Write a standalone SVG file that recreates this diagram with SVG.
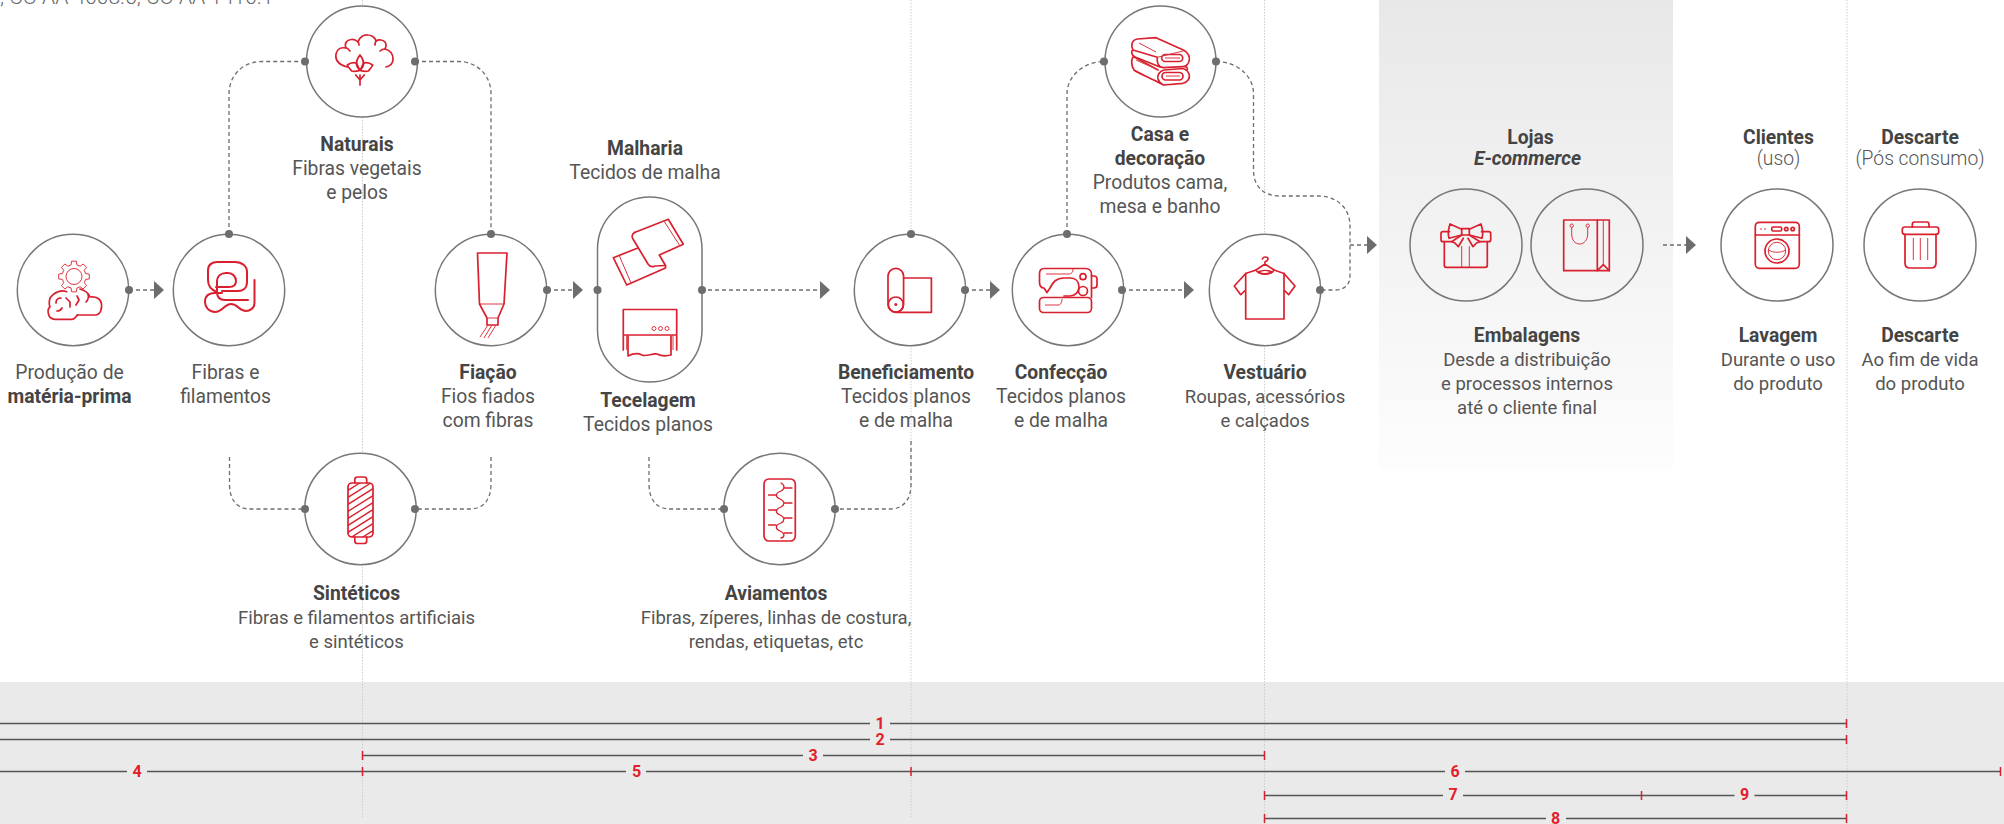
<svg xmlns="http://www.w3.org/2000/svg" width="2004" height="824" viewBox="0 0 2004 824">
<style>
text{font-family:Roboto,"Liberation Sans",sans-serif;font-size:19.3px;fill:#555;text-anchor:middle}
.b{font-weight:700;fill:#444}
.l{font-weight:300}
.s{font-size:18.5px}
.c{fill:#fff;stroke:#777;stroke-width:1.5}
.n{fill:none;stroke:#777;stroke-width:1.5}
.d{fill:none;stroke:#6d6d6d;stroke-width:1.3;stroke-dasharray:4 3}
.dot{fill:#6d6d6d}
.ah{fill:#6d6d6d}
.i{fill:none;stroke:#d9202e;stroke-width:1.7;stroke-linejoin:round;stroke-linecap:round}
.t{fill:none;stroke:#dc3540;stroke-width:1}
.g{stroke:#ccc;stroke-width:1;stroke-dasharray:1.5 1.5}
.r{stroke:#555;stroke-width:1.3}
.k{stroke:#d9202e;stroke-width:1.5}
.m{font-weight:700;font-size:16px;fill:#e2202c}
</style>
<defs>
<linearGradient id="pg" x1="0" y1="0" x2="0" y2="1"><stop offset="0" stop-color="#e8e8e8"/><stop offset="1" stop-color="#fdfdfd"/></linearGradient>
<clipPath id="spc"><rect x="348" y="483" width="25" height="54" rx="4"/></clipPath>
</defs>

<rect x="1379" y="0" width="294" height="470" fill="url(#pg)"/>
<rect x="0" y="682" width="2004" height="142" fill="#eaeaea"/>
<g id="guides">
<line class="g" x1="362.500" y1="0" x2="362.500" y2="817"/>
<line class="g" x1="911" y1="0" x2="911" y2="817"/>
<line class="g" x1="1264.500" y1="0" x2="1264.500" y2="824"/>
<line class="g" x1="1847" y1="0" x2="1847" y2="824"/>
</g>
<text id="top-note" class="l" x="0" y="4" style="text-anchor:start;font-size:21px;fill:#666">, CO AA 4008.5, CO AA 1410.1</text>

<g id="connectors">
<path class="d" d="M129,290H155"/><path class="ah" d="M154,281l10,9l-10,9z"/>
<path class="d" d="M229,234V94C229,75 243,61.500 262,61.500H305"/>
<path class="d" d="M415,61.500H458C477,61.500 491,75 491,94V234"/>
<path class="d" d="M547,290H573"/><path class="ah" d="M573,281l10,9l-10,9z"/>
<path class="d" d="M708,290H820"/><path class="ah" d="M820,281l10,9l-10,9z"/>
<path class="d" d="M965,290H990"/><path class="ah" d="M990,281l10,9l-10,9z"/>
<path class="d" d="M1067,234V94C1067,75 1085,61.500 1104,61.500"/>
<path class="d" d="M1216,61.500C1236,61.500 1253.500,75 1253.500,94V170C1253.500,185 1262,196 1280,196H1318C1337,196 1350,208 1350,226V276C1350,285 1344,290 1335,290H1320"/>
<path class="d" d="M1129,290H1184"/><path class="ah" d="M1184,281l10,9l-10,9z"/>
<path class="d" d="M1350,245H1367"/><path class="ah" d="M1367,236l10,9l-10,9z"/>
<path class="d" d="M1663,245H1686"/><path class="ah" d="M1686,236l10,9l-10,9z"/>
<path class="d" d="M229.500,457V484C229.500,500 237,509 250,509H305"/>
<path class="d" d="M491,457V484C491,500 483,509 470,509H415"/>
<path class="d" d="M649,457V484C649,500 657,509 670,509H724"/>
<path class="d" d="M911,441V484C911,500 903,509 890,509H835"/>
</g>

<g id="materia-prima">
<circle class="c" cx="73" cy="290" r="55.700"/>
<circle class="dot" cx="129" cy="290" r="4"/>
<polygon class="t" transform="translate(74,276.500)" points="-2.900,-11.640 -2.420,-15.300 2.420,-15.300 2.900,-11.640 6.180,-10.290 9.110,-12.540 12.540,-9.110 10.290,-6.180 11.640,-2.900 15.300,-2.420 15.300,2.420 11.640,2.900 10.290,6.180 12.540,9.110 9.110,12.540 6.180,10.290 2.900,11.640 2.420,15.300 -2.420,15.300 -2.900,11.640 -6.180,10.290 -9.110,12.540 -12.540,9.110 -10.290,6.180 -11.640,2.900 -15.300,2.420 -15.300,-2.420 -11.640,-2.900 -10.290,-6.180 -12.540,-9.110 -9.110,-12.540 -6.180,-10.290"/>
<circle class="t" cx="74" cy="276.500" r="8"/>
<path class="i" d="M77.300,315H95C101,315 102,308 101.500,304C101,299 96,296 90,297C88,292 84,290 80,289"/>
<path class="i" d="M66.700,291.700C62,290 55,291 50,298C49,302 49,305 50,307C47,309 47,319 55,319.300H71.700C74,319.300 76,317 77.300,315"/>
<path class="i" d="M56,303c0-3 2-5 5-5M66,298l4,4v5M62,308c-1,2-3,3-5,3M77,296l2,4l-3,5M88,294c1,3 0,6-2,8"/>
<text x="69.500" y="378.500">Produção de</text>
<text class="b" x="69.500" y="402.500">matéria-prima</text>
</g>

<g id="fibras">
<circle class="c" cx="229" cy="290" r="55.700"/>
<circle class="dot" cx="229" cy="234" r="4"/>
<path class="i" style="stroke-width:2" d="M254.500,280V303C254.500,308 250,311 246,311C239,311 238,304 231,304C224,304 223,312 215,312C209,312 205,307 205,302C205,296 209,293 215,293H222"/>
<path class="i" style="stroke-width:2" d="M248,300H225C220,300 217,297 217,292V282C217,276 221,273 226,273H228C233,273 236,277 236,281C236,285 233,287 229,287H216"/>
<path class="i" style="stroke-width:2" d="M217,292C211,290 208,286 208,280V270C208,265 212,262 217,262H235C242,262 247,266 247,272V282C247,288 243,291 238,291H222"/>
<text x="225.500" y="378.500">Fibras e</text>
<text x="225.500" y="402.500">filamentos</text>
</g>

<g id="naturais">
<circle class="c" cx="362" cy="61.500" r="55.500"/>
<circle class="dot" cx="305" cy="61.500" r="4"/>
<circle class="dot" cx="415" cy="61.500" r="4"/>
<path class="i" d="M347.500,67C339,65 335,61 336,54C337,49 341,47 346,48C344,43 347,40 351,39.500C354,39 356,40 358,42C359,37 364,34.500 368,35C371,35 375,37 376,41C379,39 383,40 385,42C387,45 386,47 385,49C389,50 393,53 393,59C393,63 390,66 386,67"/>
<path class="i" d="M346,48C348,48 349,50 350,51M358,42C359,43 359,44 359,45M376,41C375,43 375,44 375,45M385,49C383,49 381,50 380,51"/>
<path class="i" d="M360,55C356,60 354,65 360,70C366,65 364,60 360,55Z"/>
<path class="i" d="M347.300,65C350,63 354,62 356.700,63.300C358,66 359,68 359.300,70.700C356,71.500 353,71.500 351.700,71C350,69 348,67 347.300,65ZM372.700,65C370,63 366,62 363.300,63.300C362,66 361,68 360.700,70.700C364,71.500 367,71.500 368.300,71C370,69 372,67 372.700,65Z"/>
<path class="i" d="M360,75V85M355.700,75L360,80L364.300,75"/>
<text class="b" x="357" y="150.500">Naturais</text>
<text x="357" y="174.500">Fibras vegetais</text>
<text x="357" y="198.500">e pelos</text>
</g>

<g id="fiacao">
<circle class="c" cx="491" cy="290" r="55.700"/>
<circle class="dot" cx="491" cy="234" r="4"/>
<circle class="dot" cx="547" cy="290" r="4"/>
<path class="i" d="M477.500,253H507L504,304L498,318V325H487V318L479.500,304Z"/>
<path class="t" d="M479.500,304H504M487,318H498M480,337L488,325M484,338L492,325M488,338L496,325"/>
<text class="b" x="488" y="378.500">Fiação</text>
<text x="488" y="402.500">Fios fiados</text>
<text x="488" y="426.500">com fibras</text>
</g>

<g id="malharia-tecelagem">
<rect class="c" x="597.500" y="197" width="104.500" height="185" rx="52.250"/>
<circle class="dot" cx="597.500" cy="290" r="4"/>
<circle class="dot" cx="702" cy="290" r="4"/>
<path class="i" d="M634.500,232.500L668.300,219.300L683.300,244.300L659.300,255L665.500,265.500V268L626.700,285L613.300,257.700L637.300,248.300"/>
<path class="i" d="M634.500,232.500C632,234 631.500,237 633,239L648,264C650,267 653,267 655,266L665.500,265.500"/>
<path class="t" d="M664,221L680,246M619,255L631,283"/>
<path class="i" d="M623.300,350V309.500H676.700V350M623.300,335H676.700"/>
<path class="t" d="M626.700,335V350M673,335V350M654,328.500m-2,0a2,2 0 1 0 4,0a2,2 0 1 0-4,0M660.500,328.500m-2,0a2,2 0 1 0 4,0a2,2 0 1 0-4,0M667,328.500m-2,0a2,2 0 1 0 4,0a2,2 0 1 0-4,0"/>
<path class="i" d="M628,336V356C634,353 638,353 642,355C647,357 652,353 657,354C661,356 667,356 671,355V336"/>
<text class="b" x="645" y="154.500">Malharia</text>
<text x="645" y="178.500">Tecidos de malha</text>
<text class="b" x="648" y="406.500">Tecelagem</text>
<text x="648" y="430.500">Tecidos planos</text>
</g>

<g id="beneficiamento">
<circle class="c" cx="910" cy="290" r="55.700"/>
<circle class="dot" cx="911" cy="234" r="4"/>
<circle class="dot" cx="965" cy="290" r="4"/>
<rect class="i" x="888" y="268.300" width="15.600" height="44" rx="7.800"/>
<circle class="i" cx="895.800" cy="304.500" r="7.500"/>
<circle fill="#d9202e" cx="895.800" cy="304.500" r="1.500"/>
<path class="i" d="M903.600,278H931.400V312.300H896"/>
<text class="b" x="906" y="378.500">Beneficiamento</text>
<text x="906" y="402.500">Tecidos planos</text>
<text x="906" y="426.500">e de malha</text>
</g>

<g id="confeccao">
<circle class="c" cx="1068" cy="290" r="55.700"/>
<circle class="dot" cx="1067" cy="234" r="4"/>
<circle class="dot" cx="1122" cy="290" r="4"/>
<rect class="i" x="1039.500" y="297.500" width="52" height="15" rx="4"/>
<path class="i" d="M1091.500,297.500V274C1091.500,270 1088,268.500 1085,268.500H1044C1041,268.500 1039.500,271 1039.500,274V282C1039.500,286 1041,288 1044,288L1047,292.500L1050,288C1053,282 1056,278 1064,278H1070C1076,278 1079,282 1079,287C1079,292 1075,296 1070,296H1064"/>
<path class="i" d="M1091.500,276H1094C1096,276 1097,277 1097,279V285C1097,287 1096,288 1094,288H1091.500"/>
<circle class="i" cx="1083" cy="276.700" r="3"/>
<circle class="i" cx="1083" cy="291" r="4.500"/>
<path class="t" d="M1046,274H1068C1072,274 1073,272 1073,269M1045,305H1058C1061,305 1062,302 1062,299"/>
<text class="b" x="1061" y="378.500">Confecção</text>
<text x="1061" y="402.500">Tecidos planos</text>
<text x="1061" y="426.500">e de malha</text>
</g>

<g id="casa">
<circle class="c" cx="1160.500" cy="61.500" r="55.500"/>
<circle class="dot" cx="1104" cy="61.500" r="4"/>
<circle class="dot" cx="1216" cy="61.500" r="4"/>
<path class="i" d="M1133,50C1131,47 1131,40 1137.300,39L1156,37.700L1183.300,50C1188,52 1190,57 1189.300,60C1188.700,65 1185,66.700 1182.700,66.700L1163.300,67.700C1158,66.700 1156.700,61.700 1157.300,57.300L1133,50C1131,51 1131,55 1135,57L1160,67"/>
<rect class="i" x="1161.700" y="54.500" width="21" height="7" rx="3.500"/>
<path class="t" d="M1157.300,57.300L1183,51M1165,58H1180"/>
<path class="i" d="M1133.700,56.700C1131,58 1131,66 1134,70C1138,73 1150,78 1160,83.300L1163.500,85L1183,83.300C1188,82 1190,78 1189.300,75C1188,70 1185,69 1183,68.500L1164,70C1159,71 1157,76 1158,79C1159,82 1161,84 1163.500,85"/>
<path class="i" d="M1185,66.700C1188,67 1188,70 1186,70M1133.700,56.700L1158,70"/>
<rect class="i" x="1162" y="72.500" width="21" height="7.500" rx="3.700"/>
<path class="t" d="M1139,43L1156,52M1136,60L1156,69M1166,76H1180"/>
<text class="b" x="1160" y="140.500">Casa e</text>
<text class="b" x="1160" y="164.500">decoração</text>
<text x="1160" y="188.500">Produtos cama,</text>
<text x="1160" y="212.500">mesa e banho</text>
</g>

<g id="vestuario">
<circle class="c" cx="1265" cy="290" r="55.700"/>
<circle class="dot" cx="1320" cy="290" r="4"/>
<path class="i" d="M1245.700,273.500V319H1284V273.500M1245.700,273.500L1234.300,286L1240.700,294.700L1245.700,290M1284,273.500L1295,286L1288.700,294.700L1284,290"/>
<path class="i" d="M1245.700,273.500L1256,270C1258,275 1272,275 1274,270L1284,273.500"/>
<path class="i" d="M1256,270L1265,264L1274,270M1265,264V262C1267,261 1268,260 1268,259C1268,257 1266,257 1265,257C1264,257 1262.500,258 1262.500,259M1258,272C1262,270 1268,270 1272,272C1268,275 1262,275 1258,272Z"/>
<text class="b" x="1265" y="378.500">Vestuário</text>
<text class="s" x="1265" y="402.500">Roupas, acessórios</text>
<text class="s" x="1265" y="426.500">e calçados</text>
</g>

<g id="lojas-embalagens">
<circle class="n" cx="1466" cy="245" r="56"/>
<circle class="n" cx="1587" cy="245" r="56"/>
<path class="i" d="M1444.300,241.700V265.300C1444.300,266.500 1445,267.300 1446.300,267.300H1485.300C1486.500,267.300 1487.300,266.500 1487.300,265.300V241.700"/>
<path class="i" d="M1451.700,241.700H1443C1441.800,241.700 1441,241 1441,239.700V233.700C1441,232.500 1441.800,231.700 1443,231.700H1449.500M1480,241.700H1488.700C1490,241.700 1490.700,241 1490.700,239.700V233.700C1490.700,232.500 1490,231.700 1488.700,231.700H1481.500"/>
<path class="t" d="M1461.700,246V267.300M1469.300,246V267.300"/>
<rect class="i" x="1461.700" y="228.700" width="7.600" height="6.300"/>
<path class="i" d="M1461.700,229.300L1450,224C1448,230 1448,235 1449,238.300L1461.700,235M1469.300,229.300L1481,224C1483,230 1483,235 1482,238.300L1469.300,235"/>
<path class="i" d="M1461.700,235L1451.700,241.700L1455,243L1458.300,246.700L1463.300,238.300M1469.300,235L1480,241.700L1476.500,243L1473,246.700L1468,238.300"/>
<rect class="i" x="1563.700" y="220" width="45.600" height="50.700"/>
<path class="i" d="M1597.300,220V270.700L1603.300,264.700L1609.300,270.700"/>
<path class="t" d="M1603.300,220V264.700"/>
<circle class="t" cx="1571.700" cy="225.700" r="1.700"/>
<circle class="t" cx="1587.700" cy="225.700" r="1.700"/>
<path class="t" d="M1571.700,227.500V234C1571.700,240 1575,244 1579.700,244C1584,244 1587.700,240 1587.700,234V227.500"/>
<text class="b" x="1530.500" y="143.500">Lojas</text>
<text class="b" x="1527.500" y="164.500" style="font-style:italic">E-commerce</text>
<text class="b" x="1527" y="341.500">Embalagens</text>
<text class="s" x="1527" y="365.500">Desde a distribuição</text>
<text class="s" x="1527" y="389.500">e processos internos</text>
<text class="s" x="1527" y="413.500">até o cliente final</text>
</g>

<g id="clientes">
<circle class="c" cx="1777" cy="245" r="56"/>
<rect class="i" x="1755.300" y="222.300" width="44" height="46" rx="4"/>
<path class="i" d="M1755.300,235H1799.300"/>
<rect class="i" x="1771.700" y="227" width="10" height="4" rx="1.500"/>
<circle class="i" cx="1786.300" cy="229" r="1.700"/>
<circle class="i" cx="1792.700" cy="229" r="1.700"/>
<path class="t" d="M1760,229H1762M1764,229H1766"/>
<circle class="i" cx="1777" cy="251" r="12"/>
<circle class="t" cx="1777" cy="251" r="8.700"/>
<path class="t" d="M1768.500,250C1773,253 1781,253 1785.500,250"/>
<text class="b" x="1778.500" y="143.500">Clientes</text>
<text class="l" x="1778.500" y="164.500">(uso)</text>
<text class="b" x="1778" y="341.500">Lavagem</text>
<text class="s" x="1778" y="365.500">Durante o uso</text>
<text class="s" x="1778" y="389.500">do produto</text>
</g>

<g id="descarte">
<circle class="c" cx="1920" cy="245" r="56"/>
<rect class="i" x="1902.300" y="227" width="36.400" height="7.300" rx="2.500"/>
<path class="i" d="M1912.300,227V224.500C1912.300,223 1913,222 1914.500,222H1927C1928.500,222 1929,223 1929,224.500V227"/>
<path class="i" d="M1905,234.300V263C1905,266 1907,268 1910,268H1931C1934,268 1936,266 1936,263V234.300"/>
<path class="t" d="M1913.300,238V260M1920.300,238V260M1927.700,238V260"/>
<text class="b" x="1920" y="143.500">Descarte</text>
<text class="l" x="1920" y="164.500">(Pós consumo)</text>
<text class="b" x="1920" y="341.500">Descarte</text>
<text class="s" x="1920" y="365.500">Ao fim de vida</text>
<text class="s" x="1920" y="389.500">do produto</text>
</g>

<g id="sinteticos">
<circle class="c" cx="360.500" cy="509" r="55.700"/>
<circle class="dot" cx="305" cy="509" r="4"/>
<circle class="dot" cx="415" cy="509" r="4"/>
<path class="i" d="M354.800,483V479.500C354.800,478 356,477 357.500,477H364C365.500,477 366.700,478 366.700,479.500V483M354.800,537V541C354.800,542.500 356,543.500 357.500,543.500H364C365.500,543.500 366.700,542.500 366.700,541V537"/>
<g clip-path="url(#spc)"><path class="t" style="stroke-width:1.300;stroke:#d9202e" d="M347,491L374,474M347,498L374,481M347,505L374,488M347,512L374,495M347,519L374,502M347,526L374,509M347,533L374,516M347,540L374,523M347,547L374,530M347,554L374,537"/></g>
<rect class="i" x="348" y="483" width="25" height="54" rx="4"/>
<text class="b" x="356.500" y="599.500">Sintéticos</text>
<text class="s" x="356.500" y="623.500">Fibras e filamentos artificiais</text>
<text class="s" x="356.500" y="647.500">e sintéticos</text>
</g>

<g id="aviamentos">
<circle class="c" cx="779.500" cy="509" r="55.700"/>
<circle class="dot" cx="724" cy="509" r="4"/>
<circle class="dot" cx="835" cy="509" r="4"/>
<rect class="i" x="764" y="479" width="31.300" height="62" rx="5"/>
<path class="i" style="stroke-width:1.300" d="M781,483C785,485 785,489 781,491C775,493 775,497 780,499C785,501 785,505 781,507C775,509 775,513 780,515C785,517 785,521 781,523C775,525 775,529 780,531C785,533 785,537 781,538M784.500,488H792M784.500,503H792M784.500,518H792M784.500,533H792M768.500,495H776M768.500,510H776M768.500,525H776"/>
<text class="b" x="776" y="599.500">Aviamentos</text>
<text class="s" x="776" y="623.500">Fibras, zíperes, linhas de costura,</text>
<text class="s" x="776" y="647.500">rendas, etiquetas, etc</text>
</g>

<g id="timeline">
<path class="r" fill="none" d="M0,723.500H870M890,723.500H1846M0,739.500H870M890,739.500H1846M362,755.500H803M823,755.500H1264.500M0,771.500H127M147,771.500H626M646,771.500H1445M1465,771.500H2001M1264.500,795.500H1443M1463,795.500H1734.500M1754.500,795.500H1846M1264.500,818.500H1546M1566,818.500H1846"/>
<path class="k" d="M362.500,751V760M362.500,767V776M911,767V776M1264.500,751V760M1846.500,719V728M1846.500,735V744M2000.500,767V776M1264.500,791V800M1641.500,791V800M1846.500,791V800M1264.500,814V823M1846.500,814V823"/>
<text class="m" x="880" y="729">1</text>
<text class="m" x="880" y="745">2</text>
<text class="m" x="813" y="761">3</text>
<text class="m" x="137" y="777">4</text>
<text class="m" x="636.500" y="777">5</text>
<text class="m" x="1455" y="777">6</text>
<text class="m" x="1453" y="800">7</text>
<text class="m" x="1555.500" y="824">8</text>
<text class="m" x="1744.500" y="800">9</text>
</g>
</svg>
